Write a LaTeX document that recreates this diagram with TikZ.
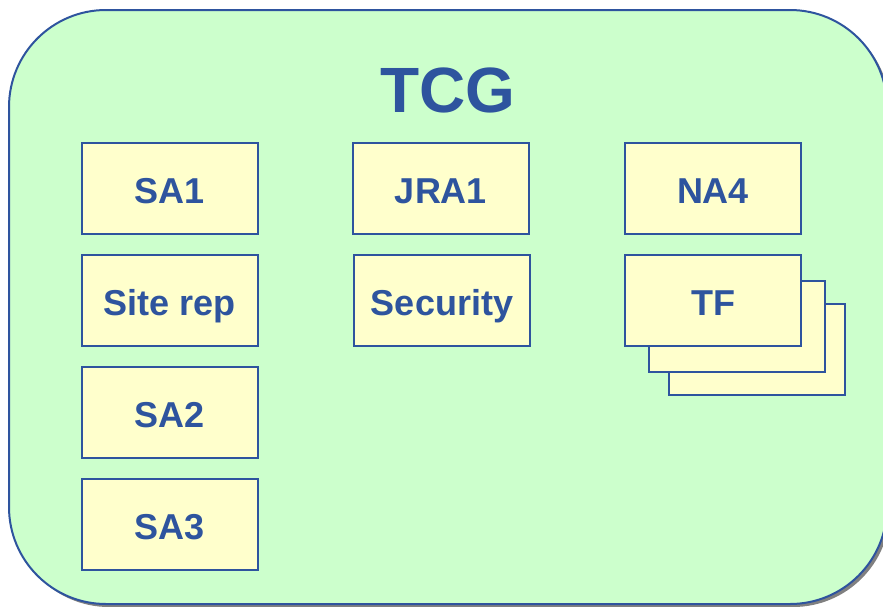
\documentclass[tikz,border=0pt]{standalone}
\usepackage{fontspec}
\setmainfont{Liberation Sans}
\definecolor{tcgblue}{RGB}{46,84,158}
\definecolor{tcggreen}{RGB}{204,255,204}
\definecolor{tcgyellow}{RGB}{255,255,204}
\begin{document}
\begin{tikzpicture}[x=1pt,y=-1pt,
  group/.style={draw=tcgblue,line width=2pt,fill=tcggreen,rounded corners=97pt},
  shadowbox/.style={fill=black!50,rounded corners=97pt},
  wgbox/.style={draw=tcgblue,line width=2pt,fill=tcgyellow,minimum width=176pt,minimum height=91pt,
    inner sep=0pt,text height=29pt,text depth=0pt,text=tcgblue,font=\fontsize{36}{40}\bfseries\selectfont},
  title/.style={text=tcgblue,font=\fontsize{64}{70}\bfseries\selectfont,inner sep=0pt,anchor=base}]
\useasboundingbox (0,0) rectangle (883,606);
\begin{scope}
\clip (0,0) rectangle (883,606);
\fill[shadowbox] (12,13) rectangle (890,607);
\draw[group] (9,10) rectangle (887,604);
\end{scope}
\node[title] (tcg) at (448,112) {TCG};
% left column
\node[wgbox] (sa1) at (170,188.5) {SA1};
\node[wgbox] (site) at (170,300.5) {Site rep};
\node[wgbox] (sa2) at (170,412.5) {SA2};
\node[wgbox] (sa3) at (170,524.5) {SA3};
% middle column
\node[wgbox] (jra1) at (441,188.5) {JRA1};
\node[wgbox] (sec) at (442,300.5) {Security};
% right column
\node[wgbox] (na4) at (713,188.5) {NA4};
\node[wgbox] (tf3) at (757,349.5) {};
\node[wgbox] (tf2) at (736.5,326.5) {};
\node[wgbox] (tf) at (713,300.5) {TF};
\end{tikzpicture}
\end{document}
